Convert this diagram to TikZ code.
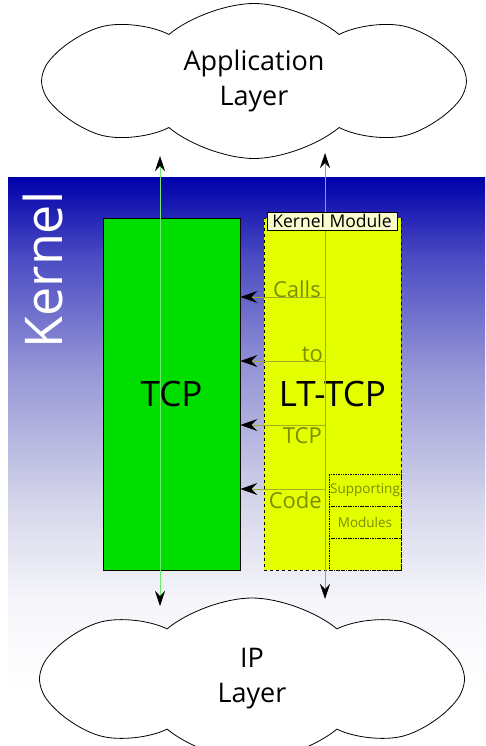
\documentclass[tikz,border=0pt]{standalone}
\usepackage{fontspec}
\setmainfont{Open Sans}
\usetikzlibrary{shapes.symbols,arrows.meta}
\definecolor{kerntop}{RGB}{0,0,170}
\definecolor{kernA}{RGB}{75,75,195}
\definecolor{kernB}{RGB}{150,150,215}
\definecolor{kernC}{RGB}{215,215,235}
\definecolor{kernD}{RGB}{245,245,250}
\definecolor{tcpgreen}{RGB}{0,222,0}
\definecolor{ltyellow}{RGB}{228,255,0}
\definecolor{modfill}{RGB}{250,252,205}
\definecolor{ltline}{RGB}{165,175,30}
\definecolor{lttext}{RGB}{128,140,0}
\definecolor{tcpline}{RGB}{110,235,110}
% カーネル領域のグラデーション
\pgfdeclareverticalshading{kernelfade}{100bp}{color(0bp)=(white); color(25bp)=(white); color(30bp)=(white); color(38bp)=(kernD); color(46bp)=(kernC); color(58bp)=(kernB); color(68bp)=(kernA); color(75bp)=(kerntop); color(100bp)=(kerntop)}
\tikzset{
  layer/.style={cloud, cloud puffs=8, cloud puff arc=80, cloud ignores aspect,
    draw, fill=white, line width=0.8pt, align=center, inner sep=0pt,
    font=\fontsize{27}{35}\selectfont},
  stackbox/.style={minimum width=137pt, minimum height=352pt, inner sep=0pt,
    font=\fontsize{35}{40}\selectfont},
  supbox/.style={draw, densely dotted, line width=0.7pt, minimum width=72pt,
    minimum height=32pt, inner sep=0pt, text=lttext, font=\fontsize{13.5}{15}\selectfont},
  calltext/.style={text=lttext, inner sep=0pt, font=\fontsize{22}{24}\selectfont},
  passline/.style={line width=0.8pt, {Stealth[length=15pt, width=10pt, inset=5pt, black]}-{Stealth[length=15pt, width=10pt, inset=5pt, black]}},
  callarrow/.style={ltline, line width=0.8pt, -{Stealth[length=17pt, width=12pt, inset=6pt, black]}}
}
\begin{document}
\begin{tikzpicture}[x=1pt,y=-1pt]
  \useasboundingbox (0,0) rectangle (485,746);
  % カーネルの背景
  \fill[shading=kernelfade] (8,178) rectangle (485,746);
  \node[rotate=90, anchor=base, white, inner sep=0pt, font=\fontsize{52}{60}\selectfont] (kernel) at (62,270) {Kernel};

  % 上下の層（雲）
  \node[layer, minimum width=425pt, minimum height=155pt] (app) at (254,81) {Application\\Layer};
  \node[layer, minimum width=425pt, minimum height=162pt] (ip) at (252,679) {IP\\Layer};

  % TCP と LT-TCP
  \node[stackbox, draw, fill=tcpgreen, line width=0.8pt] (tcp) at (171.5,394) {TCP};
  \node[stackbox, draw, dashed, fill=ltyellow, line width=0.8pt] (lttcp) at (332.5,394) {LT-TCP};

  % 補助モジュール
  \node[supbox] (sup1) at (365,490.5) {Supporting};
  \node[supbox] (sup2) at (365,522.5) {Modules};
  \node[supbox] (sup3) at (365,554.5) {};

  % 上下をつなぐ線
  \coordinate (tcpup) at (160,156);
  \coordinate (tcpdown) at (160,606);
  \coordinate (ltup) at (325,153);
  \coordinate (ltdown) at (325,599);
  \draw[passline, tcpline] (tcpup) -- (tcpdown);
  \draw[passline, ltline] (ltup) -- (ltdown);

  % カーネルモジュールの札
  \node[draw, fill=modfill, line width=0.7pt, minimum width=130pt, minimum height=18pt,
    inner sep=0pt, font=\fontsize{17.5}{18}\selectfont] (module) at (332,221) {Kernel Module};

  % LT-TCP から TCP への呼び出し
  \coordinate (call1) at (325,297);
  \coordinate (call2) at (325,361);
  \coordinate (call3) at (325,425);
  \coordinate (call4) at (325,489);
  \draw[callarrow] (call1) -- (call1 -| tcp.east);
  \draw[callarrow] (call2) -- (call2 -| tcp.east);
  \draw[callarrow] (call3) -- (call3 -| tcp.east);
  \draw[callarrow] (call4) -- (call4 -| tcp.east);
  \node[calltext, anchor=base east] (calls) at (321,297) {Calls};
  \node[calltext, anchor=base east] (to) at (323,361) {to};
  \node[calltext, anchor=base east] (tcpword) at (322,443) {TCP};
  \node[calltext, anchor=base east] (code) at (322,508) {Code};
\end{tikzpicture}
\end{document}
